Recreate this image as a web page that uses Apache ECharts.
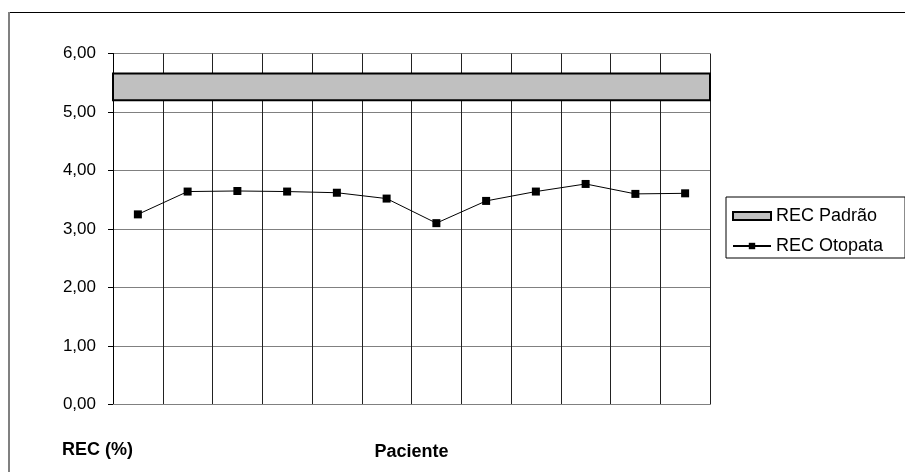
<!DOCTYPE html>
<html>
<head>
<meta charset="utf-8">
<style>
  html, body { margin: 0; padding: 0; background: #fff; }
  #chart { width: 905px; height: 472px; }
</style>
<script src="https://cdn.jsdelivr.net/npm/echarts@6/dist/echarts.min.js"></script>
</head>
<body>
<div id="chart"></div>
<script>
// Patients along the x axis
const pacientes = ['1', '2', '3', '4', '5', '6', '7', '8', '9', '10', '11', '12'];
// REC measured for each patient (%)
const recOtopata = [3.25, 3.64, 3.65, 3.64, 3.62, 3.52, 3.10, 3.48, 3.64, 3.77, 3.60, 3.61];
// Reference range (lower, upper)
const recPadrao = [5.20, 5.66];
// Y axis tick labels, 0 to 6
const yTickLabels = ['0,00', '1,00', '2,00', '3,00', '4,00', '5,00', '6,00'];

const FONT = '"Liberation Sans", Arial, sans-serif';

const chart = echarts.init(document.getElementById('chart'), null, { renderer: 'canvas' });

chart.setOption({
  animation: false,
  backgroundColor: '#ffffff',
  textStyle: { fontFamily: FONT, color: '#000' },
  grid: { left: 113, top: 53.5, right: 195, bottom: 67.5, containLabel: false },
  legend: {
    orient: 'vertical',
    left: 726,
    top: 197,
    padding: [10, 22, 3, 6],
    itemGap: 12,
    itemWidth: 38,
    itemHeight: 8,
    borderColor: '#000',
    borderWidth: 1,
    backgroundColor: '#fff',
    textStyle: { fontFamily: FONT, fontSize: 18, color: '#000' },
    data: [
      { name: 'REC Padrão', icon: 'rect', itemStyle: { color: '#C0C0C0', borderColor: '#000', borderWidth: 2 } },
      { name: 'REC Otopata' }
    ]
  },
  xAxis: {
    type: 'category',
    data: pacientes,
    boundaryGap: true,
    name: 'Paciente',
    nameLocation: 'middle',
    nameGap: 39,
    nameTextStyle: { fontFamily: FONT, fontSize: 18, fontWeight: 'bold', color: '#000' },
    axisLine: { show: true, lineStyle: { color: '#808080', width: 1 } },
    axisTick: { show: false },
    axisLabel: { show: false },
    splitLine: { show: true, interval: 0, lineStyle: { color: '#222', width: 1 } }
  },
  yAxis: {
    type: 'value',
    min: 0,
    max: 6,
    interval: 1,
    axisLine: { show: true, lineStyle: { color: '#000', width: 1 } },
    axisTick: { show: true, length: 5, lineStyle: { color: '#000' } },
    axisLabel: {
      margin: 17,
      fontFamily: FONT,
      fontSize: 17,
      color: '#000',
      formatter: function (v) { return yTickLabels[Math.round(v)]; }
    },
    splitLine: { show: true, lineStyle: { color: '#808080', width: 1 } }
  },
  series: [
    {
      name: 'REC Padrão',
      type: 'line',
      data: [],
      itemStyle: { color: '#C0C0C0', borderColor: '#000', borderWidth: 2 },
      markArea: {
        silent: true,
        itemStyle: { color: '#C0C0C0', borderColor: '#000', borderWidth: 2 },
        data: [[{ yAxis: recPadrao[0] }, { yAxis: recPadrao[1] }]]
      }
    },
    {
      name: 'REC Otopata',
      type: 'line',
      data: recOtopata,
      symbol: 'rect',
      symbolSize: 8,
      showAllSymbol: true,
      itemStyle: { color: '#000' },
      lineStyle: { color: '#000', width: 1 },
      z: 5
    }
  ],
  graphic: [
    // outer frame: top rule and left rule
    { type: 'line', shape: { x1: 9, y1: 12.5, x2: 905, y2: 12.5 }, style: { stroke: '#000', lineWidth: 1 } },
    { type: 'line', shape: { x1: 9, y1: 12, x2: 9, y2: 472 }, style: { stroke: '#808080', lineWidth: 2 } },
    {
      type: 'text', left: 62, top: 441,
      style: { text: 'REC (%)', fontFamily: FONT, fontSize: 18, fontWeight: 'bold', fill: '#000' }
    }
  ]
});
</script>
</body>
</html>
